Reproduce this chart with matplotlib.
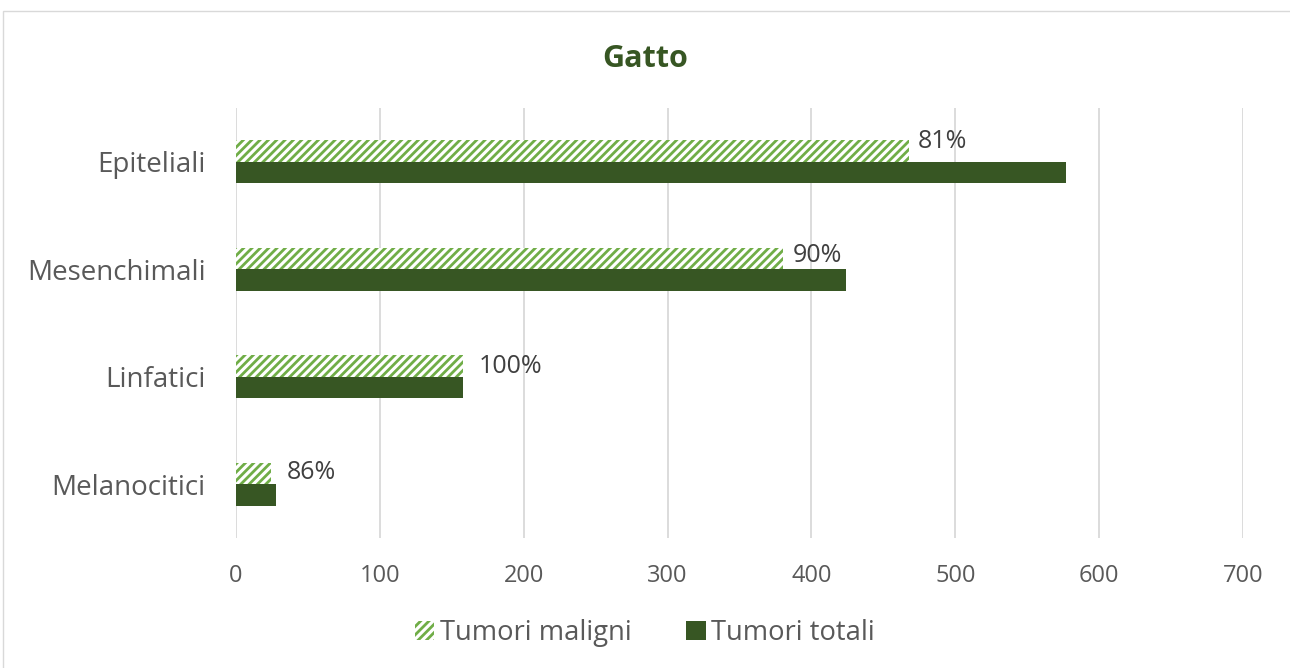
import matplotlib

matplotlib.use("Agg")
import matplotlib.pyplot as plt
from matplotlib.patches import Patch, Rectangle

CATEGORIES = ["Melanocitici", "Linfatici", "Mesenchimali", "Epiteliali"]
MALIGNI = [24, 158, 380, 468]
TOTALI = [28, 158, 424, 577]
PERCENT_LABELS = ["86%", "100%", "90%", "81%"]
X_TICKS = [0, 100, 200, 300, 400, 500, 600, 700]

DARK_GREEN = "#375623"
LIGHT_GREEN = "#70AD47"
TEXT_GRAY = "#595959"
GRID_GRAY = "#D9D9D9"

plt.rcParams["font.family"] = ["Open Sans", "DejaVu Sans"]
plt.rcParams["hatch.linewidth"] = 2.0

figure = plt.figure(figsize=(12.9, 6.68), dpi=100, facecolor="white")
figure.patches.append(
    Rectangle(
        (3 / 1290, -0.05),
        1.1,
        1.05 - 11 / 668,
        transform=figure.transFigure,
        facecolor="none",
        edgecolor=GRID_GRAY,
        linewidth=1,
    )
)

axis = figure.add_axes([236 / 1290, 1 - 538 / 668, (1243 - 236) / 1290, 430 / 668])
positions = list(range(len(CATEGORIES)))
bar_height = 0.2

axis.barh(
    [p + bar_height / 2 for p in positions],
    MALIGNI,
    height=bar_height,
    facecolor="white",
    edgecolor=LIGHT_GREEN,
    hatch="////",
    linewidth=0,
    zorder=3,
)
axis.barh(
    [p - bar_height / 2 for p in positions],
    TOTALI,
    height=bar_height,
    color=DARK_GREEN,
    linewidth=0,
    zorder=3,
)

# etichette percentuali a destra della barra dei maligni
label_dx = [16, 15, 10, 8]
label_dy = [1, -1, 3, 9]
for p, value, label, dx, dy in zip(positions, MALIGNI, PERCENT_LABELS, label_dx, label_dy):
    axis.annotate(
        label,
        (value, p + bar_height / 2),
        xytext=(dx * 0.72, dy * 0.72),
        textcoords="offset points",
        ha="left",
        va="center",
        fontsize=18,
        color="#404040",
    )

axis.set_xlim(0, 700)
axis.set_ylim(-0.5, len(CATEGORIES) - 0.5)
axis.set_xticks(X_TICKS)
axis.set_yticks(positions)
axis.set_yticklabels(CATEGORIES)
axis.tick_params(axis="both", length=0, colors=TEXT_GRAY)
axis.tick_params(axis="x", pad=19, labelsize=17)
axis.tick_params(axis="y", pad=22, labelsize=20)
axis.grid(axis="x", color=GRID_GRAY, linewidth=1.3, zorder=0)
for spine in axis.spines.values():
    spine.set_visible(False)

figure.text(
    0.5,
    1 - 59 / 668,
    "Gatto",
    ha="center",
    va="center",
    fontsize=22,
    weight="bold",
    color=DARK_GREEN,
)

handles = [
    Patch(facecolor="white", edgecolor=LIGHT_GREEN, hatch="////", linewidth=0),
    Patch(facecolor=DARK_GREEN, linewidth=0),
]
legend = figure.legend(
    handles,
    ["Tumori maligni", "Tumori totali"],
    loc="center",
    bbox_to_anchor=(0.5, 1 - 633 / 668),
    ncol=2,
    frameon=False,
    fontsize=19.7,
    handlelength=0.7,
    handleheight=0.7,
    handletextpad=0.2,
    columnspacing=2.0,
)
for text in legend.get_texts():
    text.set_color(TEXT_GRAY)

figure.savefig("out.png", dpi=100, facecolor="white")
